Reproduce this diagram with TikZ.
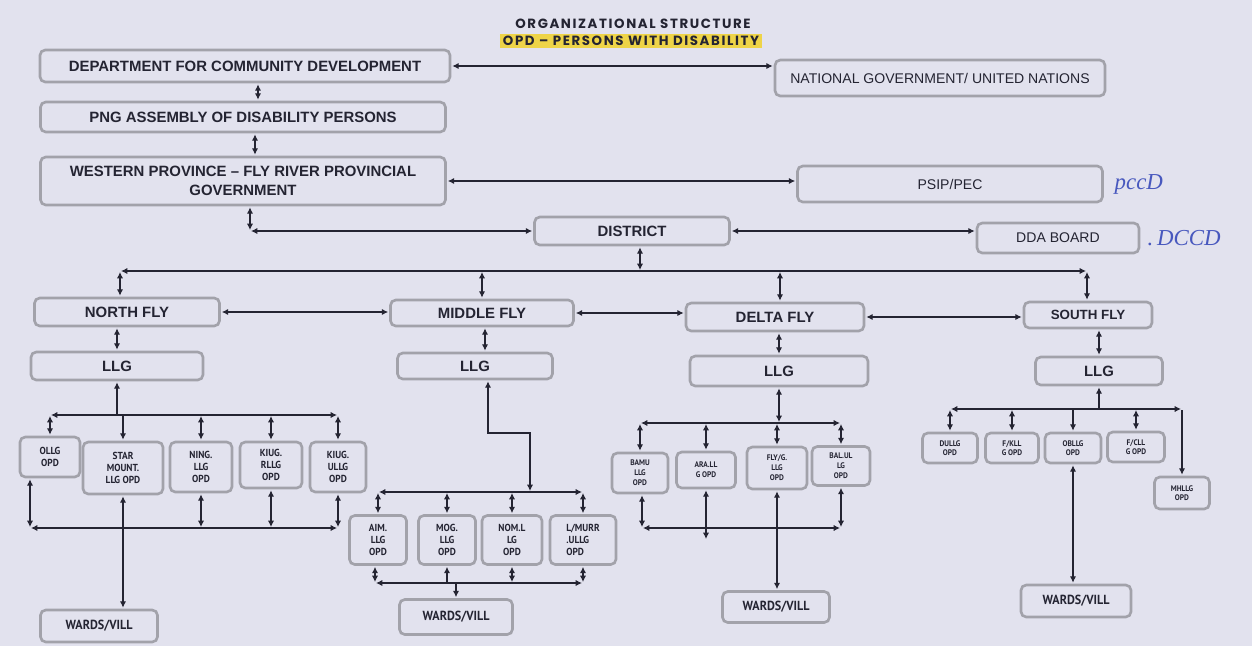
\documentclass[tikz,border=0pt]{standalone}
\usepackage{fontspec}
\setmainfont{Liberation Sans}
\newfontfamily\opdfont{PT Sans}[FakeStretch=0.92]
\newfontfamily\titlefont{Poppins}[LetterSpace=12]
\newfontfamily\penfont{Liberation Serif}
\usepackage{xcolor}
\usetikzlibrary{arrows.meta,positioning}

\definecolor{paper}{RGB}{226,226,238}
\definecolor{boxline}{RGB}{162,162,170}
\definecolor{ink}{RGB}{36,36,50}
\definecolor{pen}{RGB}{72,88,190}
\definecolor{marker}{RGB}{238,212,72}

\begin{document}
\begin{tikzpicture}[
    x=0.02cm, y=-0.02cm,
    wh/.style 2 args={minimum width=#1*0.02cm, minimum height=#2*0.02cm},
    box/.style={rectangle, draw=boxline, line width=1.5pt, rounded corners=3pt, text=ink,
        inner sep=1pt, align=center, font=\bfseries\fontsize{8.5}{10.5}\selectfont},
    light/.style={box, font=\fontsize{8}{10}\selectfont},
    opd/.style={box, font=\opdfont\bfseries\fontsize{5.8}{6.6}\selectfont},
    dopd/.style={opd, font=\opdfont\bfseries\fontsize{4.6}{5.6}\selectfont},
    sopd/.style={opd, font=\opdfont\bfseries\fontsize{4.6}{5.4}\selectfont},
    wards/.style={opd, font=\opdfont\bfseries\fontsize{7.5}{8.5}\selectfont},
    note/.style={text=pen, font=\penfont\itshape\fontsize{13}{15}\selectfont, inner sep=0pt},
    arr/.style={<->, >={Latex[length=3.6pt,width=3.6pt]}, draw=ink, line width=0.6pt,
        shorten >=0.6pt, shorten <=0.6pt}
]
    \fill[paper] (0,0) rectangle (1252,646);
    \useasboundingbox (0,0) rectangle (1252,646);

    % title
    \node[font=\titlefont\bfseries\fontsize{7.6}{9}\selectfont, text=ink] (title) at (633,24) {ORGANIZATIONAL STRUCTURE};
    \node[fill=marker, inner sep=1.5pt, font=\titlefont\bfseries\fontsize{7.6}{9}\selectfont, text=ink] (subtitle) at (631,41) {OPD – PERSONS WITH DISABILITY};

    % top levels
    \node[box, wh={410}{32}] (dcd) at (245,66) {DEPARTMENT FOR COMMUNITY DEVELOPMENT};
    \node[light, wh={330}{36}] (natgov) at (940,78) {NATIONAL GOVERNMENT/ UNITED NATIONS};
    \node[box, wh={405}{30}] (pngadp) at (243,117) {PNG ASSEMBLY OF DISABILITY PERSONS};
    \node[box, wh={405}{48}] (wpfr) at (243,181) {WESTERN PROVINCE – FLY RIVER PROVINCIAL\\GOVERNMENT};
    \node[light, wh={305}{36}] (psip) at (950,184) {PSIP/PEC};
    \node[note, right=6pt of psip] (pccd) {pccD};
    \node[box, wh={195}{28}] (dist) at (632,231) {DISTRICT};
    \node[light, wh={162}{30}] (dda) at (1058,238) {DDA BOARD};
    \node[note, right=4pt of dda] (dccd) {.\,DCCD};

    % fly regions and LLGs
    \node[box, wh={185}{28}] (nfly) at (127,312) {NORTH FLY};
    \node[box, wh={183}{26}] (mfly) at (482,313) {MIDDLE FLY};
    \node[box, wh={178}{28}] (dfly) at (775,317) {DELTA FLY};
    \node[box, wh={128}{26}, font=\bfseries\fontsize{7.6}{9}\selectfont] (sfly) at (1088,315) {SOUTH FLY};
    \node[box, wh={172}{28}] (nllg) at (117,366) {LLG};
    \node[box, wh={155}{26}] (mllg) at (475,366) {LLG};
    \node[box, wh={178}{30}] (dllg) at (779,371) {LLG};
    \node[box, wh={127}{28}] (sllg) at (1099,371) {LLG};

    % north fly OPDs
    \node[opd, wh={60}{40}] (ollg) at (50,457) {OLLG\\OPD};
    \node[opd, wh={80}{52}] (starm) at (123,468) {STAR\\MOUNT.\\LLG OPD};
    \node[opd, wh={62}{50}] (ning) at (201,467) {NING.\\LLG\\OPD};
    \node[opd, wh={62}{46}] (kiugr) at (271,465) {KIUG.\\RLLG\\OPD};
    \node[opd, wh={56}{50}] (kiugu) at (338,467) {KIUG.\\ULLG\\OPD};
    \node[wards, wh={117}{32}] (nwards) at (99,626) {WARDS/VILL};

    % middle fly OPDs
    \node[opd, wh={57}{49}] (aim) at (378,540) {AIM.\\LLG\\OPD};
    \node[opd, wh={57}{49}] (mog) at (447,540) {MOG.\\LLG\\OPD};
    \node[opd, wh={60}{49}] (noml) at (512,540) {NOM.L\\LG\\OPD};
    \node[opd, wh={66}{49}, align=left] (lmurr) at (583,540) {L/MURR\\.ULLG\\OPD};
    \node[wards, wh={113}{35}] (mwards) at (456,617) {WARDS/VILL};

    % delta fly OPDs
    \node[dopd, wh={56}{40}] (bamu) at (640,473) {BAMU\\LLG\\OPD};
    \node[dopd, wh={59}{36}] (aral) at (706,470) {ARA.LL\\G OPD};
    \node[dopd, wh={60}{42}] (flyg) at (777,468) {FLY/G.\\LLG\\OPD};
    \node[dopd, wh={58}{39}] (balul) at (841,466) {BAL.UL\\LG\\OPD};
    \node[wards, wh={107}{31}] (dwards) at (776,607) {WARDS/VILL};

    % south fly OPDs
    \node[sopd, wh={55}{30}] (dullg) at (950,448) {DULLG\\OPD};
    \node[sopd, wh={53}{30}] (fkll) at (1012,448) {F/KLL\\G OPD};
    \node[sopd, wh={56}{30}] (obllg) at (1073,448) {OBLLG\\OPD};
    \node[sopd, wh={57}{30}] (fcll) at (1136,447) {F/CLL\\G OPD};
    \node[sopd, wh={55}{32}] (mhllg) at (1182,493) {MHLLG\\OPD};
    \node[wards, wh={110}{32}] (swards) at (1076,601) {WARDS/VILL};

    % upper links
    \draw[arr] (dcd.east) -- (dcd.east -| natgov.west);
    \draw[arr] ([xshift=0.26cm]dcd.south) -- ([xshift=0.26cm]dcd.south |- pngadp.north);
    \draw[arr] ([xshift=0.24cm]pngadp.south) -- ([xshift=0.24cm]pngadp.south |- wpfr.north);
    \draw[arr] (wpfr.east) -- (wpfr.east -| psip.west);
    \coordinate (wd) at ([xshift=0.14cm]wpfr.south |- dist.west);
    \draw[arr] ([xshift=0.14cm]wpfr.south) -- (wd);
    \draw[arr] (wd) -- (dist.west);
    \draw[arr] (dist.east) -- (dist.east -| dda.west);

    % district to the four regions
    \coordinate (fb) at (640,271);
    \coordinate (fl) at (120,271);
    \coordinate (fr) at (1087,271);
    \draw[arr] (dist.south -| fb) -- (fb);
    \draw[arr] (fl) -- (fr);
    \draw[arr] (fl) -- (fl |- nfly.north);
    \draw[arr] (mfly.north |- fl) -- (mfly.north);
    \draw[arr] ([xshift=0.1cm]dfly.north |- fl) -- ([xshift=0.1cm]dfly.north);
    \draw[arr] (fr) -- (fr |- sfly.north);
    \draw[arr] (nfly.east) -- (nfly.east -| mfly.west);
    \draw[arr] (mfly.east) -- (mfly.east -| dfly.west);
    \draw[arr] (dfly.east) -- (dfly.east -| sfly.west);
    \draw[arr] (nllg.north |- nfly.south) -- (nllg.north);
    \draw[arr] ([xshift=0.06cm]mfly.south) -- ([xshift=0.06cm]mfly.south |- mllg.north);
    \draw[arr] (dllg.north |- dfly.south) -- (dllg.north);
    \draw[arr] (sllg.north |- sfly.south) -- (sllg.north);

    % north fly
    \coordinate (nb) at (117,415);
    \coordinate (nl) at (30,528);
    \draw[arr, <-] (nllg.south) -- (nb);
    \draw[arr] (ollg.north |- nb) -- (kiugu.north |- nb);
    \foreach \n in {ollg,ning,kiugr,kiugu}
        \draw[arr] (\n.north |- nb) -- (\n.north);
    \draw[arr, ->] (starm.north |- nb) -- (starm.north);
    \draw[arr] (nl) -- (kiugu.south |- nl);
    \draw[arr] (ollg.south -| nl) -- (nl);
    \foreach \n in {ning,kiugr,kiugu}
        \draw[arr] (\n.south) -- (\n.south |- nl);
    \draw[arr] (starm.south) -- (starm.south |- nwards.north);

    % middle fly
    \coordinate (mk) at (530,433);
    \coordinate (mb) at (530,492);
    \coordinate (ml) at (375,583);
    \draw[arr] ([xshift=0.26cm]mllg.south) |- (mk) -- (mb);
    \draw[arr] (aim.north |- mb) -- (lmurr.north |- mb);
    \foreach \n in {aim,mog,noml,lmurr}
        \draw[arr] (\n.north |- mb) -- (\n.north);
    \draw[arr] (ml) -- (lmurr.south |- ml);
    \draw[arr] (aim.south -| ml) -- (ml);
    \foreach \n in {noml,lmurr}
        \draw[arr] (\n.south) -- (\n.south |- ml);
    \draw[arr, <-] (mog.south) -- (mog.south |- ml);
    \draw[arr, ->] (mwards.north |- ml) -- (mwards.north);

    % delta fly
    \coordinate (db) at (779,423);
    \coordinate (dl) at (642,528);
    \draw[arr] (dllg.south) -- (db);
    \draw[arr] (bamu.north |- db) -- (balul.north |- db);
    \foreach \n in {bamu,aral,flyg,balul}
        \draw[arr] (\n.north |- db) -- (\n.north);
    \draw[arr] (dl) -- (balul.south |- dl);
    \draw[arr] (bamu.south -| dl) -- (dl);
    \draw[arr] (balul.south) -- (balul.south |- dl);
    \draw[arr] (aral.south) -- ([yshift=-0.24cm]aral.south |- dl);
    \draw[arr] (flyg.south) -- (flyg.south |- dwards.north);

    % south fly
    \coordinate (sb) at (1099,409);
    \draw[arr, <-] (sllg.south) -- (sb);
    \draw[arr] (dullg.north |- sb) -- (mhllg.north |- sb);
    \foreach \n in {dullg,fkll,fcll}
        \draw[arr] (\n.north |- sb) -- (\n.north);
    \draw[arr, ->] (obllg.north |- sb) -- (obllg.north);
    \draw[arr, ->] (mhllg.north |- sb) -- (mhllg.north);
    \draw[arr] (obllg.south) -- (obllg.south |- swards.north);
\end{tikzpicture}
\end{document}
